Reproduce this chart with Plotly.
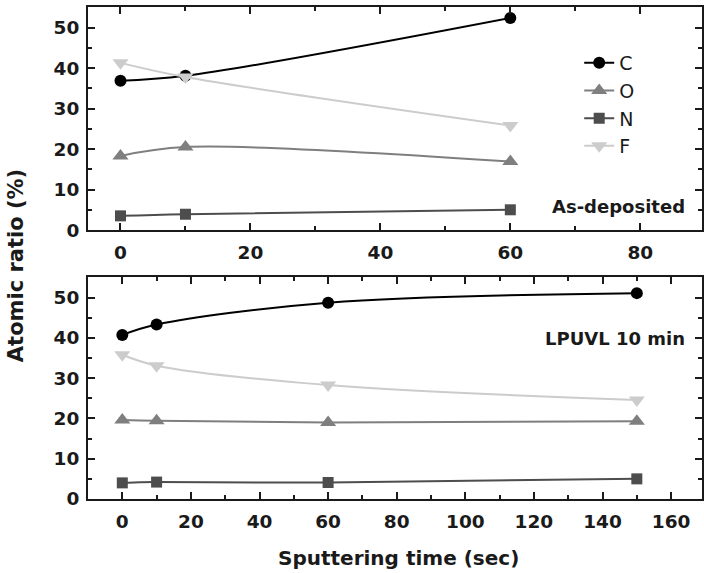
import plotly.graph_objects as go

# Top panel (As-deposited)
t_top = [0, 10, 60]
C_top = [36.9, 38.1, 52.4]
O_top = [18.3, 20.5, 16.9]
N_top = [3.5, 3.9, 5.0]
F_top = [41.3, 37.8, 25.8]

# Bottom panel (LPUVL 10 min)
t_bot = [0, 10, 60, 150]
C_bot = [40.7, 43.3, 48.7, 51.1]
O_bot = [19.6, 19.4, 19.0, 19.3]
N_bot = [4.0, 4.2, 4.1, 5.0]
F_bot = [35.8, 33.1, 28.3, 24.6]

series = [
    ("C", "circle", "#000000"),
    ("O", "triangle-up", "#7f7f7f"),
    ("N", "square", "#4d4d4d"),
    ("F", "triangle-down", "#cccccc"),
]
top_vals = {"C": C_top, "O": O_top, "N": N_top, "F": F_top}
bot_vals = {"C": C_bot, "O": O_bot, "N": N_bot, "F": F_bot}

FONT = "DejaVu Sans"
INK = "#1a1a1a"

fig = go.Figure()
msize = {"circle": 12, "triangle-up": 14, "square": 11, "triangle-down": 14}
for name, sym, col in series:
    fig.add_trace(go.Scatter(
        x=t_top, y=top_vals[name], name=name, mode="lines+markers",
        line=dict(color=col, width=2, shape="spline"),
        marker=dict(symbol=sym, size=msize[sym], color=col),
        xaxis="x", yaxis="y", showlegend=True))
for name, sym, col in series:
    fig.add_trace(go.Scatter(
        x=t_bot, y=bot_vals[name], name=name, mode="lines+markers",
        line=dict(color=col, width=2, shape="spline"),
        marker=dict(symbol=sym, size=msize[sym], color=col),
        xaxis="x2", yaxis="y2", showlegend=False))

minor = dict(ticks="inside", ticklen=4, tickwidth=2, tickcolor=INK)
ax_common = dict(showline=True, linecolor=INK, linewidth=2, mirror="allticks",
                 ticks="inside", ticklen=7, tickwidth=2, tickcolor=INK,
                 showgrid=False, zeroline=False,
                 tickfont=dict(family=FONT, size=18.5, color=INK, weight="bold"))

fig.update_layout(
    width=704, height=573,
    margin=dict(l=88, r=0, t=7, b=74),
    plot_bgcolor="white", paper_bgcolor="white",
    xaxis=dict(domain=[0, 1], range=[-5, 89.5], dtick=20, anchor="y", ticklabelstandoff=5,
               minor=dict(dtick=10, **minor), **ax_common),
    yaxis=dict(domain=[0.5467, 1.0], range=[0, 55.1], dtick=10, anchor="x", ticklabelstandoff=3,
               minor=dict(dtick=5, **minor), **ax_common),
    xaxis2=dict(domain=[0, 1], range=[-10, 169], dtick=20, anchor="y2", ticklabelstandoff=5,
                minor=dict(dtick=10, **minor), **ax_common),
    yaxis2=dict(domain=[0, 0.4512], range=[0, 55.1], dtick=10, anchor="x2", ticklabelstandoff=3,
                minor=dict(dtick=5, **minor), **ax_common),
    legend=dict(x=0.80, y=0.925, xanchor="left", yanchor="top",
                font=dict(family=FONT, size=19, color=INK),
                bgcolor="rgba(0,0,0,0)", tracegroupgap=0, itemsizing="trace"),
    showlegend=True,
)

fig.add_annotation(text="<b>As-deposited</b>", xref="paper", yref="paper",
                   x=0.975, y=0.5935, xanchor="right", yanchor="middle", showarrow=False,
                   font=dict(family=FONT, size=18, color=INK))
fig.add_annotation(text="<b>LPUVL 10 min</b>", xref="paper", yref="paper",
                   x=0.975, y=0.327, xanchor="right", yanchor="middle", showarrow=False,
                   font=dict(family=FONT, size=18, color=INK))
fig.add_annotation(text="<b>Atomic ratio (%)</b>", xref="paper", yref="paper",
                   x=-0.117, y=0.4736, xanchor="center", yanchor="middle", textangle=-90,
                   showarrow=False,
                   font=dict(family=FONT, size=21, color=INK))
fig.add_annotation(text="<b>Sputtering time (sec)</b>", xref="paper", yref="paper",
                   x=0.506, y=-0.12, xanchor="center", yanchor="middle", showarrow=False,
                   font=dict(family=FONT, size=20, color=INK))

fig.write_html("out.html", config={"displayModeBar": False},
               post_script="document.body.style.margin='0';")
